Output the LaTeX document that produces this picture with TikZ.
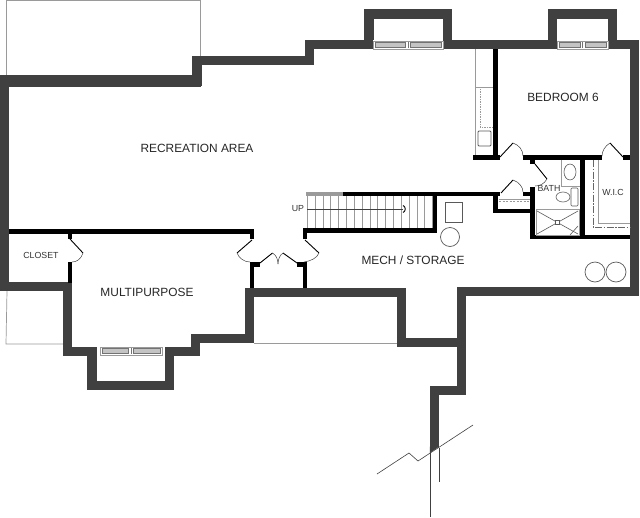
\documentclass[tikz,border=0pt]{standalone}
\usepackage{fontspec}
\setmainfont{Liberation Sans}
\definecolor{wallgray}{HTML}{404040}
\definecolor{thingray}{HTML}{9A9A9A}
\definecolor{glassgray}{HTML}{C4C4C4}

\begin{document}
\begin{tikzpicture}[x=1pt,y=-1pt,
    extwall/.style={draw=wallgray,line width=9.4pt,miter limit=10},
    intwall/.style={draw=black,line width=4.6pt},
    leaf/.style={draw=black,line width=0.9pt},
    swing/.style={draw=black!75,line width=0.5pt},
    thinline/.style={draw=thingray,line width=0.7pt},
    fixture/.style={draw=black!65,line width=0.6pt},
    glass/.style={fill=glassgray,draw=black!55,line width=0.4pt},
    roomlabel/.style={font=\fontsize{11.9}{13}\selectfont,text=black!85,inner sep=0pt},
    smalllabel/.style={font=\fontsize{8.8}{10}\selectfont,text=black!80,inner sep=0pt}]
\useasboundingbox (0,0) rectangle (640,517);

% A. Patios and other thin outlines
\draw[thinline] (6,75) -- (6,0.5) -- (200.5,0.5) -- (200.5,56);
\draw[thinline] (7,291) -- (6,344) -- (63,344);
\draw[thinline] (254,343) -- (397,343);

% B. Outer walls
\draw[extwall] (4.7,81) -- (4.7,286.5) -- (67.5,286.5) -- (67.5,351.5) -- (92,351.5) -- (92,385.5)
  -- (169.5,385.5) -- (169.5,351.5) -- (195.5,351.5) -- (195.5,338.5) -- (249.5,338.5) -- (249.5,292.5)
  -- (401.5,292.5) -- (401.5,342.5) -- (461.5,342.5) -- (461.5,291.5) -- (634.5,291.5) -- (634.5,44.5)
  -- (612.5,44.5) -- (612.5,14) -- (552.5,14) -- (552.5,44.5) -- (447.5,44.5) -- (447.5,14) -- (369,14)
  -- (369,44.5) -- (309.5,44.5) -- (309.5,60.5) -- (197,60.5) -- (197,81) -- cycle;
\draw[extwall] (461.5,342.5) -- (461.5,390.5) -- (434.5,390.5) -- (434.5,447);
\fill[wallgray] (429.8,446.5) -- (439.2,446.5) -- (429.8,453) -- cycle;
\fill[wallgray] (0,75) rectangle (201,87);

% C. Windows
\foreach \xa/\ya/\xb in {373/41/443, 557/41/608, 100/347/162}{
  \fill[white] (\xa,\ya-1) rectangle (\xb,\ya+9);
  \draw[thinline,line width=0.4pt] (\xa,\ya) rectangle (\xb,\ya+8);
  \draw[glass] (\xa+2,\ya+1.5) rectangle ({(\xa+\xb)/2-2.5},\ya+6.5);
  \draw[glass] ({(\xa+\xb)/2+2.5},\ya+1.5) rectangle (\xb-2,\ya+6.5);
  \draw[draw=black!55,line width=0.4pt] ({(\xa+\xb)/2},\ya+1) -- ({(\xa+\xb)/2},\ya+7);
}

% D. Inner walls
\draw[intwall] (9,231.5) -- (252,231.5) -- (252,239);
\draw[intwall] (69.8,233) -- (69.8,239);
\draw[intwall] (69.8,262) -- (69.8,283);
\draw[intwall] (252,288) -- (252,264.5) -- (260,264.5);
\draw[intwall] (305,288) -- (305,264.5) -- (297,264.5);
\draw[intwall] (305,239) -- (305,230.7) -- (435,230.7) -- (435,194);
\draw[intwall] (343,194) -- (500,194);
\draw[draw=thingray,line width=4pt] (306,194) -- (343,194);
\draw[intwall] (495.5,49) -- (495.5,157.5);
\draw[intwall] (473,157.5) -- (500,157.5);
\draw[intwall] (523,157.5) -- (602,157.5);
\draw[intwall] (623,157.5) -- (630,157.5);
\draw[intwall] (532.5,159) -- (532.5,164);
\draw[intwall] (582.5,159) -- (582.5,237);
\draw[intwall] (523,194) -- (532.5,194);
\draw[intwall] (532.5,187) -- (532.5,237) -- (630,237);
\draw[intwall] (495.5,194) -- (495.5,211) -- (532.5,211);

% E. Doors
\draw[leaf] (70,239) -- (83,253);
\draw[swing] (83,253) .. controls (81,259) and (77,262) .. (72,262);
\draw[leaf] (252,240) -- (237,253);
\draw[swing] (237,253) .. controls (239,258) and (244,262) .. (250,262);
\draw[leaf] (305,240) -- (319,253);
\draw[swing] (319,253) .. controls (317,258) and (311,261) .. (304,262);
\draw[leaf] (260,263) -- (272.5,253);
\draw[swing] (272.5,253) .. controls (276,255) and (278,259) .. (278,264);
\draw[leaf] (297,263) -- (283,253);
\draw[swing] (283,253) .. controls (280,255) and (278,259) .. (278,264);
\draw[leaf] (500,157) -- (513,143);
\draw[swing] (513,143) .. controls (519,145) and (523,150) .. (523,156);
\draw[leaf] (623,157) -- (610,143);
\draw[swing] (610,143) .. controls (605,146) and (602,151) .. (602,156);
\draw[leaf] (535,164) -- (547,179);
\draw[swing] (547,179) .. controls (544,184) and (540,186) .. (535,186);
\draw[leaf] (501,193) -- (513,180);
\draw[swing] (513,180) .. controls (519,182) and (523,187) .. (523,192);

% F. Stairs
\foreach \i in {0,...,16}{
  \draw[thinline] ({307.3+\i*7.83},196) -- ({307.3+\i*7.83},228);
}
\draw[draw=black!75,line width=0.5pt] (307,209) -- (403,209);
\draw[black,line width=0.9pt] (403,205.5) .. controls (406,206.5) and (406,211.5) .. (403,212.5);

% G. Kitchenette counter
\draw[thinline] (475,49) -- (475,155);
\draw[thinline] (475,87) -- (493,87);
\draw[thinline,line width=0.4pt,dash pattern=on 1.5pt off 1pt] (493,127) -- (480,127) -- (480,88);
\draw[fixture,rounded corners=1pt,line width=0.8pt] (478,131) rectangle (491,146);

% H. Bath fixtures
\draw[thinline] (561,160) -- (561,186) -- (580,186);
\draw[fixture] (570,172) ellipse [x radius=6,y radius=8];
\draw[fixture] (563,197) ellipse [x radius=7,y radius=5];
\draw[fixture,rounded corners=1pt] (571,188) rectangle (578,206);
\draw[thinline] (536,209) rectangle (579,235);
\draw[fixture] (537,211) -- (578,234);
\draw[fixture] (537,234) -- (578,211);
\draw[fill=white,fixture] (555,220) rectangle (559,224);
\draw[fixture] (570,235) -- (578,226);

% I. Under-stair shelf and W.I.C lines
\draw[thinline,line width=0.5pt] (499,199) -- (530,199);
\draw[thinline,line width=0.4pt,dash pattern=on 2pt off 1.5pt] (499,201.5) -- (530,201.5);
\draw[thinline] (598,160) -- (598,223) -- (630,223);
\draw[draw=black!60,line width=0.5pt,dash pattern=on 7pt off 1.5pt on 1.5pt off 1.5pt] (593,160) -- (593,227) -- (630,227);

% J. Mech equipment
\draw[fixture] (445,202) rectangle (462,222);
\draw[fixture,line width=0.7pt] (450,237) circle [radius=9.5];
\draw[fixture,line width=0.7pt] (595,272) circle [radius=10];
\draw[fixture,line width=0.7pt] (616,272) circle [radius=10];

% K. Break line at the wall end
\draw[draw=black!75,line width=0.6pt] (377,474) -- (409,453) -- (418,461) -- (473,425);
\draw[draw=black!75,line width=0.6pt] (430,450) -- (430,517);
\draw[draw=black!75,line width=0.6pt] (439,448) -- (439,482);

% L. Labels
\node[roomlabel] (recarea) at (197,148) {RECREATION AREA};
\node[roomlabel] (mechroom) at (413,260) {MECH / STORAGE};
\node[roomlabel] (multiroom) at (147,292) {MULTIPURPOSE};
\node[roomlabel] (bedroom) at (563,97) {BEDROOM 6};
\node[smalllabel] (closet) at (41,255) {CLOSET};
\node[smalllabel] (bath) at (549,188.5) {BATH};
\node[smalllabel] (wic) at (613,192) {W.I.C};
\node[smalllabel] (upmark) at (298,209) {UP};

\end{tikzpicture}
\end{document}
